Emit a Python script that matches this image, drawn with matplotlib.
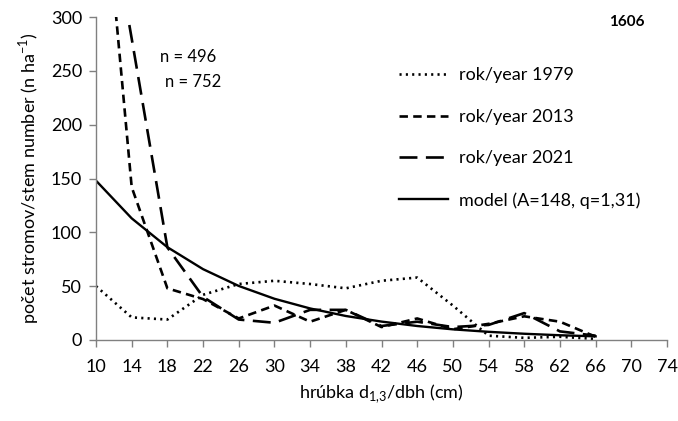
import matplotlib
matplotlib.use("Agg")
import matplotlib.pyplot as plt

# Data (diameter classes in cm)
dbh = [10, 14, 18, 22, 26, 30, 34, 38, 42, 46, 50, 54, 58, 62, 66]
year_1979 = [50, 21, 19, 42, 52, 55, 52, 48, 55, 58, 32, 4, 2, 3, 1]
year_2013 = [505, 142, 48, 38, 20, 32, 17, 28, 12, 20, 10, 15, 22, 17, 3]
year_2021 = [470, 280, 86, 40, 19, 16, 28, 28, 13, 17, 12, 14, 25, 8, 4]
model = [148, 113, 86.2, 65.8, 50.2, 38.3, 29.3, 22.3, 17.1, 13.0, 9.9, 7.6, 5.8, 4.4, 3.4]

x_ticks = list(range(10, 75, 4))
y_ticks = [0, 50, 100, 150, 200, 250, 300]

plt.rcParams['font.family'] = ['Lato', 'DejaVu Sans']
plt.rcParams['mathtext.fontset'] = 'custom'
plt.rcParams['mathtext.rm'] = 'Lato'

fig = plt.figure(figsize=(6.78, 4.21), dpi=100)
ax = fig.add_axes([96/678, 1-340/421, (667-96)/678, (340-17)/421])

lw = 1.9
ax.plot(dbh, year_1979, color='black', lw=lw, dashes=(0.8, 1.6), dash_capstyle='butt',
        label='rok/year 1979')
ax.plot(dbh, year_2013, color='black', lw=lw, dashes=(3.2, 2.0), label='rok/year 2013')
ax.plot(dbh, year_2021, color='black', lw=lw, dashes=(6.8, 3.2), label='rok/year 2021')
ax.plot(dbh, model, color='black', lw=1.7, label='model (A=148, q=1,31)')

ax.set_xlim(10, 74)
ax.set_ylim(0, 300)
ax.set_xticks(x_ticks)
ax.set_yticks(y_ticks)
for s in ['top', 'right']:
    ax.spines[s].set_visible(False)
for s in ['left', 'bottom']:
    ax.spines[s].set_color('#808080')
    ax.spines[s].set_linewidth(1.0)
ax.tick_params(axis='both', direction='out', length=5, width=1.0, color='#808080',
               labelsize=13, labelcolor='black', pad=5)
ax.tick_params(axis='x', pad=9)

ax.set_ylabel('počet stromov/stem number (n ha$^{\\mathregular{-1}}$)', fontsize=13, labelpad=7)
ax.set_xlabel('hrúbka d$_{\\mathregular{1{,}3}}$/dbh (cm)', fontsize=13, labelpad=5)

leg = ax.legend(loc='upper left', bbox_to_anchor=((392-96)/571, 1-(60-17)/323), frameon=False,
                fontsize=13, handlelength=2.7, labelspacing=1.42, handletextpad=0.6,
                borderaxespad=0)

fig.text(627/678, 1-22/421, '1606', fontsize=11, fontweight='bold', ha='center', va='center')
fig.text(188/678, 1-57/421, 'n = 496', fontsize=12, ha='center', va='center')
fig.text(193/678, 1-82/421, 'n = 752', fontsize=12, ha='center', va='center')

fig.savefig('out.png', dpi=100)
